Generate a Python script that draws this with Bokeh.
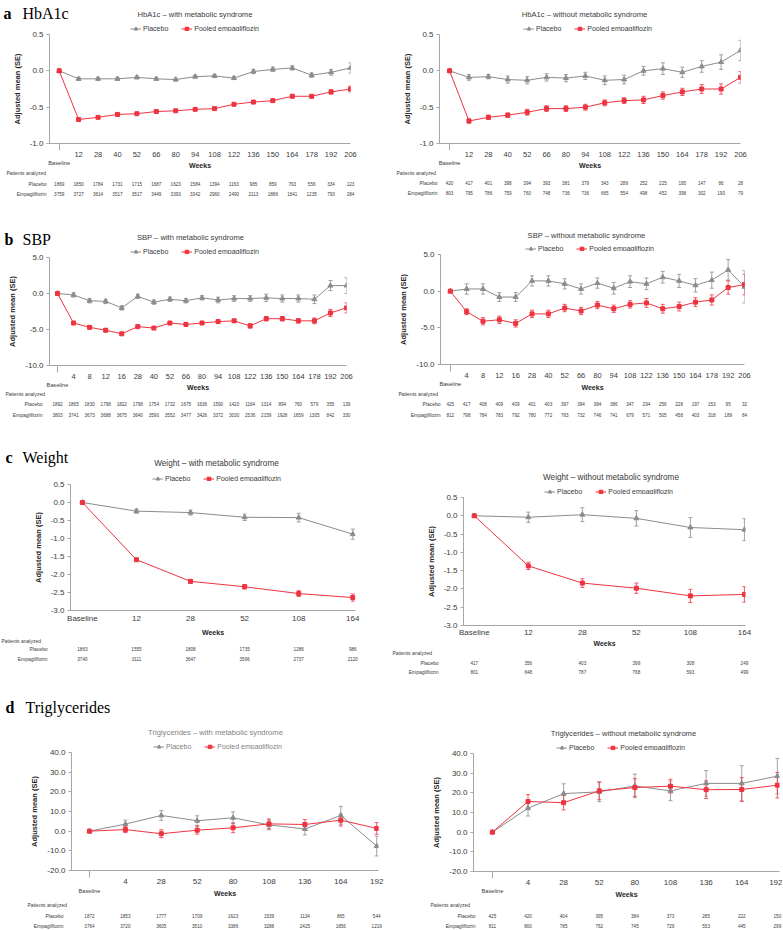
from bokeh.plotting import figure
from bokeh.models import (ColumnDataSource, Range1d, FixedTicker, NumeralTickFormatter,
                          Legend, LegendItem, Whisker, TeeHead)
from bokeh.core.properties import value
from bokeh.layouts import column, row
from bokeh.embed import file_html
from bokeh.resources import INLINE

# ------------------------------------------------------------------ data
HBA1C_WEEKS = ["Baseline", "12", "28", "40", "52", "66", "80", "94", "108", "122",
               "136", "150", "164", "178", "192", "206"]
HBA1C_MS_PLACEBO = [0.0, -0.11, -0.11, -0.11, -0.09, -0.11, -0.12, -0.08, -0.07, -0.10,
                    -0.01, 0.02, 0.04, -0.06, -0.02, 0.04]
HBA1C_MS_PLACEBO_SE = [0, 0.02, 0.02, 0.02, 0.02, 0.02, 0.02, 0.02, 0.02, 0.02,
                       0.03, 0.03, 0.03, 0.03, 0.04, 0.07]
HBA1C_MS_EMPA = [0.0, -0.67, -0.64, -0.60, -0.59, -0.56, -0.55, -0.53, -0.52, -0.46,
                 -0.43, -0.41, -0.35, -0.35, -0.29, -0.25]
HBA1C_MS_EMPA_SE = [0, 0.01, 0.01, 0.01, 0.01, 0.01, 0.01, 0.01, 0.01, 0.01,
                    0.02, 0.02, 0.02, 0.02, 0.03, 0.04]
HBA1C_MS_N_PLACEBO = [1869, 1850, 1784, 1731, 1715, 1687, 1623, 1584, 1394, 1163,
                      985, 859, 763, 556, 334, 123]
HBA1C_MS_N_EMPA = [3759, 3727, 3614, 3517, 3517, 3449, 3393, 3342, 2960, 2490,
                   2113, 1886, 1641, 1235, 793, 284]

HBA1C_NOMS_PLACEBO = [0.0, -0.09, -0.08, -0.12, -0.13, -0.09, -0.10, -0.07, -0.13, -0.12,
                      0.00, 0.03, -0.02, 0.06, 0.12, 0.28]
HBA1C_NOMS_PLACEBO_SE = [0, 0.04, 0.03, 0.05, 0.05, 0.05, 0.05, 0.05, 0.06, 0.06,
                         0.06, 0.08, 0.07, 0.08, 0.10, 0.14]
HBA1C_NOMS_EMPA = [0.0, -0.69, -0.64, -0.61, -0.57, -0.52, -0.52, -0.50, -0.44, -0.41,
                   -0.40, -0.34, -0.29, -0.25, -0.25, -0.09]
HBA1C_NOMS_EMPA_SE = [0, 0.03, 0.03, 0.03, 0.04, 0.04, 0.04, 0.04, 0.04, 0.04,
                      0.05, 0.05, 0.05, 0.06, 0.07, 0.08]
HBA1C_NOMS_N_PLACEBO = [420, 417, 401, 398, 394, 393, 381, 379, 343, 289,
                        252, 225, 195, 147, 86, 28]
HBA1C_NOMS_N_EMPA = [803, 795, 786, 759, 760, 748, 736, 736, 665, 554,
                     498, 452, 398, 302, 190, 79]

SBP_WEEKS = ["Baseline", "4", "8", "12", "16", "28", "40", "52", "66", "80", "94",
             "108", "122", "136", "150", "164", "178", "192", "206"]
SBP_MS_PLACEBO = [0.0, -0.2, -1.0, -1.1, -2.0, -0.4, -1.2, -0.8, -1.0, -0.6, -0.9,
                  -0.7, -0.7, -0.6, -0.7, -0.7, -0.8, 1.1, 1.1]
SBP_MS_PLACEBO_SE = [0, 0.3, 0.3, 0.3, 0.3, 0.3, 0.3, 0.3, 0.3, 0.3, 0.4,
                     0.4, 0.4, 0.5, 0.5, 0.5, 0.6, 0.7, 1.1]
SBP_MS_EMPA = [0.0, -4.1, -4.7, -5.1, -5.6, -4.6, -4.8, -4.1, -4.3, -4.1, -3.9,
               -3.8, -4.5, -3.5, -3.5, -3.8, -3.8, -2.7, -2.0]
SBP_MS_EMPA_SE = [0, 0.2, 0.2, 0.2, 0.2, 0.2, 0.2, 0.2, 0.2, 0.2, 0.2,
                  0.2, 0.3, 0.3, 0.3, 0.3, 0.4, 0.5, 0.7]
SBP_MS_N_PLACEBO = [1892, 1865, 1830, 1798, 1822, 1798, 1754, 1732, 1675, 1636, 1590,
                    1420, 1164, 1014, 894, 760, 579, 355, 139]
SBP_MS_N_EMPA = [3803, 3741, 3673, 3688, 3675, 3640, 3590, 3552, 3477, 3426, 3372,
                 3030, 2536, 2159, 1928, 1659, 1305, 842, 330]

SBP_NOMS_PLACEBO = [0.0, 0.3, 0.3, -0.8, -0.8, 1.4, 1.4, 1.0, 0.3, 1.1, 0.4,
                    1.3, 1.0, 1.9, 1.4, 0.8, 1.5, 2.9, 0.6]
SBP_NOMS_PLACEBO_SE = [0, 0.7, 0.7, 0.6, 0.6, 0.7, 0.7, 0.7, 0.7, 0.7, 0.8,
                       0.8, 0.8, 0.8, 0.9, 0.9, 1.1, 1.4, 2.2]
SBP_NOMS_EMPA = [0.0, -2.8, -4.1, -3.9, -4.4, -3.1, -3.1, -2.3, -2.7, -1.9, -2.4,
                 -1.8, -1.6, -2.4, -2.1, -1.5, -1.2, 0.5, 0.9]
SBP_NOMS_EMPA_SE = [0, 0.4, 0.5, 0.5, 0.5, 0.5, 0.5, 0.5, 0.5, 0.5, 0.5,
                    0.5, 0.6, 0.6, 0.6, 0.6, 0.7, 0.9, 1.4]
SBP_NOMS_N_PLACEBO = [425, 417, 408, 409, 409, 401, 403, 397, 394, 384, 386,
                      347, 294, 256, 228, 197, 153, 95, 32]
SBP_NOMS_N_EMPA = [812, 798, 784, 783, 792, 780, 772, 763, 732, 746, 741,
                   679, 571, 505, 458, 403, 318, 189, 84]

WEIGHT_WEEKS = ["Baseline", "12", "28", "52", "108", "164"]
WEIGHT_MS_PLACEBO = [0.0, -0.24, -0.28, -0.41, -0.42, -0.88]
WEIGHT_MS_PLACEBO_SE = [0, 0.06, 0.07, 0.09, 0.12, 0.14]
WEIGHT_MS_EMPA = [0.0, -1.59, -2.19, -2.34, -2.53, -2.64]
WEIGHT_MS_EMPA_SE = [0, 0.03, 0.05, 0.06, 0.08, 0.10]
WEIGHT_MS_N_PLACEBO = [1863, 1555, 1808, 1735, 1286, 986]
WEIGHT_MS_N_EMPA = [3740, 3111, 3647, 3596, 2737, 2120]

WEIGHT_NOMS_PLACEBO = [0.0, -0.04, 0.03, -0.07, -0.32, -0.38]
WEIGHT_NOMS_PLACEBO_SE = [0, 0.14, 0.19, 0.21, 0.27, 0.30]
WEIGHT_NOMS_EMPA = [0.0, -1.37, -1.84, -1.98, -2.19, -2.15]
WEIGHT_NOMS_EMPA_SE = [0, 0.10, 0.12, 0.14, 0.18, 0.21]
WEIGHT_NOMS_N_PLACEBO = [417, 356, 403, 399, 308, 249]
WEIGHT_NOMS_N_EMPA = [801, 648, 787, 768, 593, 499]

TG_WEEKS = ["Baseline", "4", "28", "52", "80", "108", "136", "164", "192"]
TG_MS_PLACEBO = [0.0, 3.6, 8.0, 5.3, 6.8, 3.2, 1.1, 8.0, -7.6]
TG_MS_PLACEBO_SE = [0, 2.0, 2.5, 2.5, 3.0, 2.5, 3.0, 4.5, 5.0]
TG_MS_EMPA = [0.0, 0.8, -1.3, 0.5, 1.7, 3.7, 3.4, 5.6, 1.4]
TG_MS_EMPA_SE = [0, 1.5, 2.0, 2.0, 2.5, 2.5, 2.5, 3.0, 3.0]
TG_MS_N_PLACEBO = [1872, 1853, 1777, 1709, 1623, 1539, 1134, 865, 544]
TG_MS_N_EMPA = [3764, 3720, 3605, 3510, 3386, 3288, 2425, 1856, 1219]

TG_NOMS_PLACEBO = [0.0, 12.2, 19.6, 20.5, 23.5, 21.0, 24.8, 24.8, 28.5]
TG_NOMS_PLACEBO_SE = [0, 4.0, 5.0, 5.0, 6.0, 5.0, 6.5, 9.0, 9.0]
TG_NOMS_EMPA = [0.0, 15.6, 15.0, 21.0, 22.7, 23.4, 21.6, 21.7, 23.9]
TG_NOMS_EMPA_SE = [0, 3.5, 3.7, 4.5, 4.5, 3.5, 4.5, 6.0, 6.5]
TG_NOMS_N_PLACEBO = [425, 420, 404, 395, 384, 373, 285, 222, 150]
TG_NOMS_N_EMPA = [811, 800, 785, 762, 745, 729, 553, 445, 299]

HBA1C_YTICKS = [-1.0, -0.5, 0.0, 0.5]
SBP_YTICKS = [-10.0, -5.0, 0.0, 5.0]
WEIGHT_YTICKS = [-3.0, -2.5, -2.0, -1.5, -1.0, -0.5, 0.0, 0.5]
TG_YTICKS = [-20.0, -10.0, 0.0, 10.0, 20.0, 30.0, 40.0]

# ------------------------------------------------------------------ style
FONT = "Liberation Sans"
SERIF = "Liberation Serif"
GRAY = "#8c8c8c"
RED = "#ef3340"
AXIS = "#a6a6a6"
TXT = "#3a3a3a"
TOPB = 3  # chart figure top padding


def no_align(f):
    if "frame_align" in f.properties():
        f.frame_align = False
    return f


def blank_fig(W, h, xr):
    f = figure(width=W, height=h, x_range=Range1d(*xr), y_range=Range1d(h, 0),
               x_axis_location=None, y_axis_location=None, title=None,
               output_backend="svg", toolbar_location=None, min_border=0)
    f.outline_line_color = None
    f.grid.visible = False
    f.background_fill_color = "white"
    f.border_fill_color = "white"
    return no_align(f)


def txt(f, x, y, s, size, align="left", color=TXT, font=FONT, style="normal",
        baseline="middle"):
    f.text(x=[x], y=[y], text=[s], text_font=value(font), text_font_size=value(size),
           text_font_style=value(style), text_align=value(align),
           text_baseline=value(baseline), text_color=color)


def build(title, weeks, pl, pl_se, em, em_se, n_pl, n_em, yticks, g,
          header=None, title_color=TXT):
    n = len(weeks)
    xs = list(range(n))
    W, H, FL, FW, FT, FH, BB = g["W"], g["H"], g["FL"], g["FW"], g["FT"], g["FH"], g["BB"]
    xr0, xr1 = g["xr"]
    ylo, yhi = yticks[0], yticks[-1]
    hT = FT - TOPB
    hC = TOPB + FH + BB
    hB = H - hT - hC
    inline_base = g.get("inline_base", False)

    # ---------------- top strip: header, title, legend
    top = blank_fig(W, hT, (0, W))
    if header is not None:
        letter, name, hx, nx, hb = header
        txt(top, hx, hb, letter, "16px", font=SERIF, style="bold", color="black",
            baseline="alphabetic")
        txt(top, nx, hb, name, "16px", font=SERIF, color="black", baseline="alphabetic")
    txt(top, FL + g["tdx"], FT - g.get("tup", 20), title, g.get("tfs", "7.6px"),
        align="center", color=title_color)
    lr = []
    for color, marker, size in [(GRAY, "triangle", 5), (RED, "square", 4)]:
        a = top.line(x=[-999, -998], y=[-999, -999], line_color=color, line_width=1)
        b = top.scatter(x=[-999], y=[-999], marker=marker, size=size, fill_color=color,
                        line_color=color)
        lr.append([a, b])
    lcy = hT - (FT - g.get("lup", 6))  # legend centre, measured from bottom
    legend = Legend(items=[LegendItem(label="Placebo", renderers=lr[0]),
                           LegendItem(label="Pooled empagliflozin", renderers=lr[1])],
                    orientation="horizontal", location=(FL + g["ldx"], lcy - 4.5),
                    label_text_font=FONT, label_text_font_size="7px",
                    label_text_color=title_color,
                    glyph_width=11, glyph_height=9, label_height=9, label_width=10,
                    spacing=13, padding=0, margin=0, label_standoff=2,
                    border_line_color=None, background_fill_alpha=0)
    top.add_layout(legend)

    # ---------------- chart
    p = figure(width=W, height=hC, x_range=Range1d(xr0, xr1), y_range=Range1d(ylo, yhi),
               output_backend="svg", toolbar_location=None, title=None,
               min_border_left=FL, min_border_right=W - FL - FW,
               min_border_top=TOPB, min_border_bottom=BB)
    no_align(p)
    p.outline_line_color = None
    p.grid.visible = False
    p.background_fill_color = "white"
    p.border_fill_color = "white"

    xa = p.xaxis[0]
    xa.ticker = FixedTicker(ticks=xs, minor_ticks=([] if inline_base else [0]))
    xa.major_label_overrides = {i: ("" if (i == 0 and not inline_base) else w)
                                for i, w in enumerate(weeks)}
    xa.axis_line_color = AXIS
    xa.major_tick_line_color = None
    xa.major_tick_out = 0
    xa.major_tick_in = 0
    xa.minor_tick_line_color = AXIS
    xa.minor_tick_out = 7
    xa.minor_tick_in = 0
    xa.major_label_text_font = FONT
    xa.major_label_text_font_size = g.get("xfs", "7.5px")
    xa.major_label_text_color = TXT
    xa.major_label_standoff = g.get("xstand", 1)

    ya = p.yaxis[0]
    ya.ticker = FixedTicker(ticks=yticks)
    ya.formatter = NumeralTickFormatter(format="0.0")
    ya.axis_line_color = AXIS
    ya.major_tick_line_color = AXIS
    ya.minor_tick_line_color = None
    ya.major_tick_out = 3
    ya.major_tick_in = 0
    ya.major_label_text_font = FONT
    ya.major_label_text_font_size = "8px"
    ya.major_label_text_color = TXT
    ya.major_label_standoff = 3
    ya.axis_label = "Adjusted mean (SE)"
    ya.axis_label_text_font = FONT
    ya.axis_label_text_font_style = "bold"
    ya.axis_label_text_font_size = "7.5px"
    ya.axis_label_text_color = "#262626"
    ya.axis_label_standoff = g.get("ystand", 5)

    for vals, se, color, marker, size in [(pl, pl_se, GRAY, "triangle", 5),
                                          (em, em_se, RED, "square", 4)]:
        src = ColumnDataSource(dict(x=xs, y=vals))
        wsrc = ColumnDataSource(dict(x=xs[1:],
                                     lo=[v - s for v, s in zip(vals[1:], se[1:])],
                                     hi=[v + s for v, s in zip(vals[1:], se[1:])]))
        p.add_layout(Whisker(source=wsrc, base="x", upper="hi", lower="lo",
                             line_color=color, line_width=0.8,
                             upper_head=TeeHead(size=4, line_color=color, line_width=0.8),
                             lower_head=TeeHead(size=4, line_color=color, line_width=0.8)))
        p.line("x", "y", source=src, line_color=color, line_width=1)
        p.scatter("x", "y", source=src, marker=marker, size=size,
                  fill_color=color, line_color=color)

    # ---------------- patients-analyzed table, aligned with the chart's x scale
    k = (xr1 - xr0) / FW
    tb = blank_fig(W, hB, (xr0 - FL * k, xr0 + (W - FL) * k))
    if not inline_base:
        txt(tb, 0, g["bdy"] - BB, "Baseline", "5.7px", align="center")
    txt(tb, (xr0 + xr1) / 2, g["wdy"] - BB, "Weeks", "7px", align="center",
        color="#262626", style="bold")
    txt(tb, xr0 + g["pax"] * k, g["pady"] - BB, "Patients analyzed", "5px")
    txt(tb, xr0 + g["rlx"] * k, g["pldy"] - BB, "Placebo", "5px", align="right")
    txt(tb, xr0 + g["rlx"] * k, g["emdy"] - BB, "Empagliflozin", "5px", align="right")
    for counts, dy in [(n_pl, g["pldy"]), (n_em, g["emdy"])]:
        tsrc = ColumnDataSource(dict(x=xs, y=[dy - BB] * n, t=[str(c) for c in counts]))
        tb.text(x="x", y="y", text="t", source=tsrc, text_align="center",
                text_baseline="middle", text_font=value(FONT),
                text_font_size=value("4.6px"), text_color=TXT)
    return column(top, p, tb)


GA1 = dict(W=386, H=203, FL=49, FW=301, FT=34, FH=115, BB=10, xr=(-0.5, 15.0),
           tdx=145.5, ldx=81, bdy=13, wdy=16, pax=-43, rlx=-3, pady=23, pldy=34, emdy=44)
GA2 = dict(W=396, H=203, FL=53, FW=301, FT=34, FH=115, BB=10, xr=(-0.52, 15.0),
           tdx=145, ldx=84, bdy=13, wdy=16, pax=-43, rlx=-2, pady=23, pldy=33, emdy=43)
GB1 = dict(W=386, H=215, FL=49, FW=297, FT=54, FH=114, BB=10, xr=(-0.5, 18.0),
           tdx=141, ldx=81, bdy=13, wdy=16, pax=-44, rlx=-7, pady=22, pldy=32, emdy=43)
GB2 = dict(W=396, H=215, FL=54, FW=304, FT=51, FH=116, BB=10, xr=(-0.6, 18.0), tup=19,
           tdx=146, ldx=85, bdy=13, wdy=17, pax=-42, rlx=0, pady=23, pldy=33, emdy=44)
GC1 = dict(W=386, H=262, FL=70, FW=285, FT=66, FH=128, BB=13, xr=(-0.22, 5.05), tup=21,
           tdx=146, ldx=82, wdy=20, pax=-69, rlx=-23, pady=28, pldy=36, emdy=46,
           inline_base=True, xstand=3, tfs="8.2px", xfs="8px")
GC2 = dict(W=396, H=262, FL=77, FW=282, FT=79, FH=129, BB=13, xr=(-0.2, 5.02),
           tdx=147.5, ldx=81, wdy=17, pax=-71, rlx=-25, pady=26, pldy=36, emdy=45,
           inline_base=True, xstand=2, tfs="8.2px", xfs="8px")
GD1 = dict(W=386, H=249, FL=71, FW=307, FT=72, FH=124, BB=10, xr=(-0.5, 8.05),
           tdx=144, ldx=82, bdy=14, wdy=17, pax=-44, rlx=-8, pady=28, pldy=39, emdy=49,
           xfs="8px")
GD2 = dict(W=396, H=249, FL=87, FW=306, FT=73, FH=124, BB=10, xr=(-0.53, 8.06),
           tdx=150, ldx=83, bdy=13, wdy=17, pax=-43, rlx=2, pady=27, pldy=38, emdy=48,
           xfs="8px")

a1 = build("HbA1c \u2013 with metabolic syndrome", HBA1C_WEEKS, HBA1C_MS_PLACEBO,
           HBA1C_MS_PLACEBO_SE, HBA1C_MS_EMPA, HBA1C_MS_EMPA_SE, HBA1C_MS_N_PLACEBO,
           HBA1C_MS_N_EMPA, HBA1C_YTICKS, GA1, header=("a", "HbA1c", 3, 22, 13))
a2 = build("HbA1c \u2013 without metabolic syndrome", HBA1C_WEEKS, HBA1C_NOMS_PLACEBO,
           HBA1C_NOMS_PLACEBO_SE, HBA1C_NOMS_EMPA, HBA1C_NOMS_EMPA_SE,
           HBA1C_NOMS_N_PLACEBO, HBA1C_NOMS_N_EMPA, HBA1C_YTICKS, GA2)
b1 = build("SBP \u2013 with metabolic syndrome", SBP_WEEKS, SBP_MS_PLACEBO,
           SBP_MS_PLACEBO_SE, SBP_MS_EMPA, SBP_MS_EMPA_SE, SBP_MS_N_PLACEBO,
           SBP_MS_N_EMPA, SBP_YTICKS, GB1, header=("b", "SBP", 4, 22, 36))
b2 = build("SBP \u2013 without metabolic syndrome", SBP_WEEKS, SBP_NOMS_PLACEBO,
           SBP_NOMS_PLACEBO_SE, SBP_NOMS_EMPA, SBP_NOMS_EMPA_SE, SBP_NOMS_N_PLACEBO,
           SBP_NOMS_N_EMPA, SBP_YTICKS, GB2)
c1 = build("Weight \u2013 with metabolic syndrome", WEIGHT_WEEKS, WEIGHT_MS_PLACEBO,
           WEIGHT_MS_PLACEBO_SE, WEIGHT_MS_EMPA, WEIGHT_MS_EMPA_SE, WEIGHT_MS_N_PLACEBO,
           WEIGHT_MS_N_EMPA, WEIGHT_YTICKS, GC1, header=("c", "Weight", 5, 22, 39))
c2 = build("Weight \u2013 without metabolic syndrome", WEIGHT_WEEKS, WEIGHT_NOMS_PLACEBO,
           WEIGHT_NOMS_PLACEBO_SE, WEIGHT_NOMS_EMPA, WEIGHT_NOMS_EMPA_SE,
           WEIGHT_NOMS_N_PLACEBO, WEIGHT_NOMS_N_EMPA, WEIGHT_YTICKS, GC2)
d1 = build("Triglycerides \u2013 with metabolic syndrome", TG_WEEKS, TG_MS_PLACEBO,
           TG_MS_PLACEBO_SE, TG_MS_EMPA, TG_MS_EMPA_SE, TG_MS_N_PLACEBO, TG_MS_N_EMPA,
           TG_YTICKS, GD1, header=("d", "Triglycerides", 5, 25, 27), title_color="#7f7f7f")
d2 = build("Triglycerides \u2013 without metabolic syndrome", TG_WEEKS, TG_NOMS_PLACEBO,
           TG_NOMS_PLACEBO_SE, TG_NOMS_EMPA, TG_NOMS_EMPA_SE, TG_NOMS_N_PLACEBO,
           TG_NOMS_N_EMPA, TG_YTICKS, GD2)

layout = column(row(a1, a2), row(b1, b2), row(c1, c2), row(d1, d2))
open("out.html", "w").write(file_html(layout, INLINE, title="Metabolic syndrome subgroups"))
